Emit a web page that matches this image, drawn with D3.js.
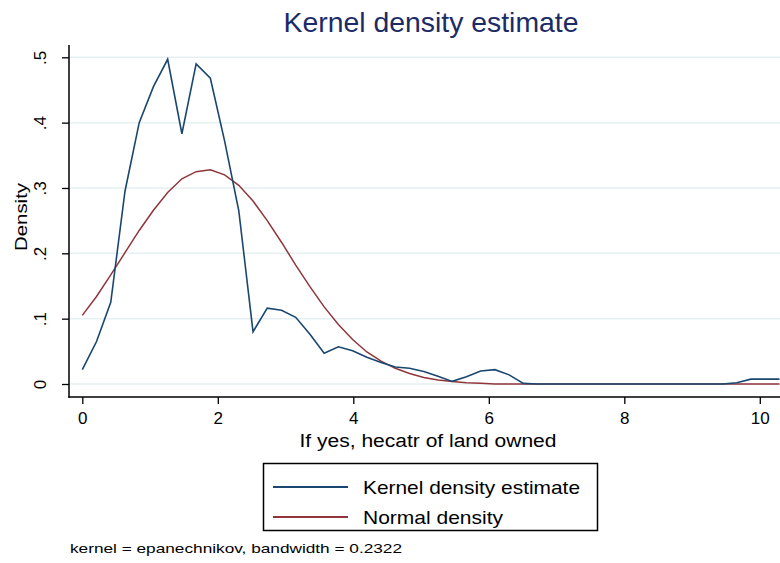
<!DOCTYPE html>
<html>
<head>
<meta charset="utf-8">
<script src="https://cdn.jsdelivr.net/npm/d3@7/dist/d3.min.js"></script>
<style>
  html, body { margin: 0; padding: 0; background: #ffffff; }
  svg { display: block; font-family: "Liberation Sans", Arial, sans-serif; }
</style>
</head>
<body>
<svg id="chart" width="780" height="563"></svg>
<script>
// ---- data ----
const gridX = [0.00, 0.21, 0.42, 0.63, 0.84, 1.05, 1.26, 1.47, 1.68, 1.89,
               2.10, 2.31, 2.52, 2.73, 2.94, 3.15, 3.36, 3.57, 3.78, 3.99,
               4.20, 4.41, 4.62, 4.83, 5.04, 5.25, 5.46, 5.67, 5.88, 6.09,
               6.30, 6.51, 6.72, 6.93, 7.14, 7.35, 7.56, 7.77, 7.98, 8.19,
               8.40, 8.61, 8.82, 9.03, 9.24, 9.45, 9.66, 9.87, 10.08, 10.29];
const kernelDensity = [0.022, 0.065, 0.125, 0.295, 0.400, 0.455, 0.497, 0.383, 0.490, 0.468,
                       0.372, 0.265, 0.080, 0.116, 0.113, 0.102, 0.076, 0.047, 0.057, 0.051,
                       0.041, 0.033, 0.026, 0.024, 0.019, 0.012, 0.004, 0.011, 0.020, 0.022,
                       0.014, 0.001, 0.000, 0.000, 0.000, 0.000, 0.000, 0.000, 0.000, 0.000,
                       0.000, 0.000, 0.000, 0.000, 0.000, 0.000, 0.002, 0.0075, 0.0075, 0.0075];
const normalDensity = [0.105, 0.134, 0.167, 0.201, 0.235, 0.266, 0.293, 0.314, 0.325, 0.328,
                       0.320, 0.304, 0.280, 0.250, 0.217, 0.182, 0.149, 0.118, 0.091, 0.068,
                       0.049, 0.035, 0.024, 0.016, 0.010, 0.006, 0.004, 0.002, 0.001, 0.000,
                       0.000, 0.000, 0.000, 0.000, 0.000, 0.000, 0.000, 0.000, 0.000, 0.000,
                       0.000, 0.000, 0.000, 0.000, 0.000, 0.000, 0.000, 0.000, 0.000, 0.000];
const xTicks = [0, 2, 4, 6, 8, 10];
const yTicks = [0, 0.1, 0.2, 0.3, 0.4, 0.5];
const yTickLabels = ["0", ".1", ".2", ".3", ".4", ".5"];
const seriesNames = ["Kernel density estimate", "Normal density"];
const titleText = "Kernel density estimate";
const xTitle = "If yes, hecatr of land owned";
const yTitle = "Density";
const noteText = "kernel = epanechnikov, bandwidth = 0.2322";

// ---- styles ----
const colors = ["#1a476f", "#90353b"];
const legendTextWidths = [217, 140];
const svg = d3.select("#chart");

const x = d3.scaleLinear().domain([0, 10]).range([82.3, 759.8]);
const y = d3.scaleLinear().domain([0, 0.5]).range([384, 57.3]);

const axisLeftX = 69, axisBottomY = 397, axisTopY = 45, axisRightX = 780;

// gridlines
svg.append("g").selectAll("line").data(yTicks).join("line")
  .attr("x1", axisLeftX + 1).attr("x2", axisRightX)
  .attr("y1", d => y(d)).attr("y2", d => y(d))
  .attr("stroke", "#e6eff2").attr("stroke-width", 1.5);

// y axis
const yAxis = d3.axisLeft(y).tickValues(yTicks).tickSize(7).tickFormat((d, i) => yTickLabels[i]);
const gy = svg.append("g").attr("transform", `translate(${axisLeftX},0)`).call(yAxis);
gy.select(".domain").remove();
gy.selectAll(".tick line").attr("stroke", "#000").attr("stroke-width", 1.3);
gy.selectAll(".tick text")
  .attr("font-size", 17).attr("fill", "#000")
  .attr("text-anchor", "middle").attr("x", 0).attr("y", 0).attr("dy", null)
  .attr("transform", "translate(-29,0) rotate(-90) translate(0,6)");
svg.append("line").attr("x1", axisLeftX).attr("x2", axisLeftX)
  .attr("y1", axisTopY).attr("y2", axisBottomY + 0.7)
  .attr("stroke", "#000").attr("stroke-width", 1.5);

// x axis
const xAxis = d3.axisBottom(x).tickValues(xTicks).tickSize(7).tickFormat(d3.format("d"));
const gx = svg.append("g").attr("transform", `translate(0,${axisBottomY})`).call(xAxis);
gx.select(".domain").remove();
gx.selectAll(".tick line").attr("stroke", "#000").attr("stroke-width", 1.3);
gx.selectAll(".tick text").attr("font-size", 17).attr("fill", "#000").attr("y", 15);
svg.append("line").attr("x1", axisLeftX - 0.7).attr("x2", axisRightX)
  .attr("y1", axisBottomY).attr("y2", axisBottomY)
  .attr("stroke", "#000").attr("stroke-width", 1.5);

// curves
const line = d3.line().x((d, i) => x(gridX[i])).y(d => y(d));
svg.append("path").datum(normalDensity).attr("d", line)
  .attr("fill", "none").attr("stroke", colors[1]).attr("stroke-width", 1.5);
svg.append("path").datum(kernelDensity).attr("d", line)
  .attr("fill", "none").attr("stroke", colors[0]).attr("stroke-width", 1.6);

// titles
svg.append("text").attr("x", 431).attr("y", 32).attr("text-anchor", "middle")
  .attr("font-size", 28).attr("fill", "#1c2a66")
  .attr("textLength", 295).attr("lengthAdjust", "spacingAndGlyphs").text(titleText);
svg.append("text").attr("x", 428).attr("y", 447).attr("text-anchor", "middle")
  .attr("font-size", 18).attr("fill", "#000")
  .attr("textLength", 257).attr("lengthAdjust", "spacingAndGlyphs").text(xTitle);
svg.append("text").attr("transform", "translate(27,217) rotate(-90)")
  .attr("text-anchor", "middle").attr("font-size", 17).attr("fill", "#000")
  .attr("textLength", 68).attr("lengthAdjust", "spacingAndGlyphs").text(yTitle);

// legend
const lg = svg.append("g");
lg.append("rect").attr("x", 263.5).attr("y", 463.5).attr("width", 334).attr("height", 67)
  .attr("fill", "#fff").attr("stroke", "#000").attr("stroke-width", 1.5);
seriesNames.forEach((name, i) => {
  const yy = 487 + i * 30;
  lg.append("line").attr("x1", 273).attr("x2", 348).attr("y1", yy).attr("y2", yy)
    .attr("stroke", colors[i]).attr("stroke-width", 2);
  lg.append("text").attr("x", 363).attr("y", yy + 6.5).attr("font-size", 19)
    .attr("fill", "#000").attr("textLength", legendTextWidths[i])
    .attr("lengthAdjust", "spacingAndGlyphs").text(name);
});

// note
svg.append("text").attr("x", 70).attr("y", 553).attr("font-size", 13.5)
  .attr("fill", "#000").attr("textLength", 332).attr("lengthAdjust", "spacingAndGlyphs")
  .text(noteText);
</script>
</body>
</html>
